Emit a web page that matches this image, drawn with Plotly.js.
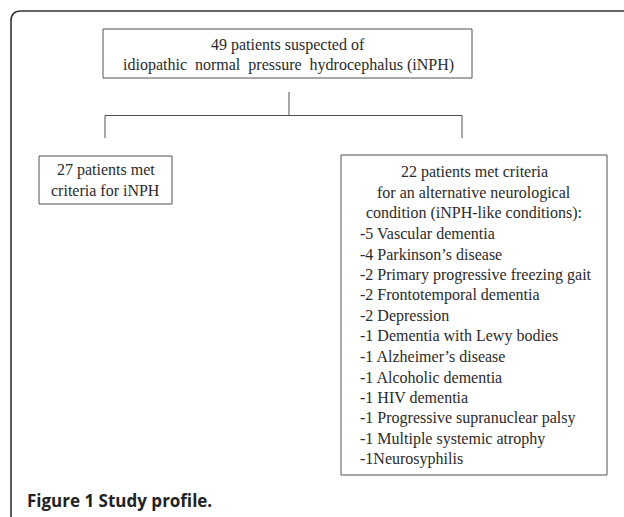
<!DOCTYPE html>
<html>
<head>
<meta charset="utf-8">
<script src="https://cdn.plot.ly/plotly-3.0.1.min.js"></script>
<style>html,body{margin:0;padding:0;background:#fff;}#chart{width:624px;height:517px;}</style>
</head>
<body>
<div id="chart"></div>
<script>
// ---- content of the flowchart ----
const totalPatients = 49;
const topLines = ["49 patients suspected of", "idiopathic\u00A0 normal\u00A0 pressure\u00A0 hydrocephalus (iNPH)"];
const inphCount = 27;
const leftLines = ["27 patients met", "criteria for iNPH"];
const altCount = 22;
const rightHeader = ["22 patients met criteria", "for an alternative neurological", "condition (iNPH-like conditions):"];
const conditionCounts = [5, 4, 2, 2, 2, 1, 1, 1, 1, 1, 1, 1];
const conditionNames = [" Vascular dementia", " Parkinson\u2019s disease", " Primary progressive freezing gait",
  " Frontotemporal dementia", " Depression", " Dementia with Lewy bodies", " Alzheimer\u2019s disease",
  " Alcoholic dementia", " HIV dementia", " Progressive supranuclear palsy", " Multiple systemic atrophy", "Neurosyphilis"];
const captionBold = "Figure 1 Study profile.";

const serif = "Liberation Serif, Times New Roman, serif";
const txtCol = "#2a2a2a";
const boxLine = {color: "#505050", width: 1};
const annotations = [];
const shapes = [];

function txt(x, y, s, anchor) {
  annotations.push({x: x, y: y, xref: "x", yref: "y", text: s, showarrow: false,
    xanchor: anchor || "center", yanchor: "middle", font: {family: serif, size: 16, color: txtCol}});
}
function rect(x0, y0, x1, y1) {
  shapes.push({type: "rect", xref: "x", yref: "y", x0: x0, y0: y0, x1: x1, y1: y1, line: boxLine, fillcolor: "rgba(0,0,0,0)"});
}
function line(x0, y0, x1, y1) {
  shapes.push({type: "line", xref: "x", yref: "y", x0: x0, y0: y0, x1: x1, y1: y1, line: boxLine});
}

// outer frame with rounded corners
shapes.push({type: "path", xref: "x", yref: "y",
  path: "M 640,11 L 21,11 Q 11,11 11,21 L 11,515 Q 11,525 21,525 L 640,525",
  line: {color: "#333333", width: 1.6}});

// top box
rect(103, 29, 472, 78);
txt(288, 45, topLines[0]);
txt(288, 65, topLines[1]);

// connectors
line(289, 92, 289, 115.5);
line(105, 115.5, 462, 115.5);
line(105, 115.5, 105, 138);
line(462, 115.5, 462, 138);

// left box
rect(39, 156, 172, 204);
txt(105.5, 170, leftLines[0]);
txt(105.5, 190, leftLines[1]);

// right box
rect(341, 155, 607, 475);
const step = 20.5;
rightHeader.forEach((s, i) => txt(474, 172 + i * step, s));
conditionCounts.forEach((c, i) => txt(358, 172 + (i + 3) * step, "-" + c + conditionNames[i], "left"));

// caption
annotations.push({x: 25, y: 500, xref: "x", yref: "y", text: "<b>" + captionBold + "</b>", showarrow: false,
  xanchor: "left", yanchor: "middle", font: {family: "Open Sans, sans-serif", size: 17, color: "#222222"}});

const layout = {
  width: 624, height: 517, margin: {l: 0, r: 0, t: 0, b: 0},
  paper_bgcolor: "#ffffff", plot_bgcolor: "#ffffff", showlegend: false,
  xaxis: {range: [0, 624], visible: false, fixedrange: true},
  yaxis: {range: [517, 0], visible: false, fixedrange: true},
  shapes: shapes, annotations: annotations
};
Plotly.newPlot("chart", [{x: [], y: [], type: "scatter"}], layout, {staticPlot: true, displayModeBar: false});
</script>
</body>
</html>
